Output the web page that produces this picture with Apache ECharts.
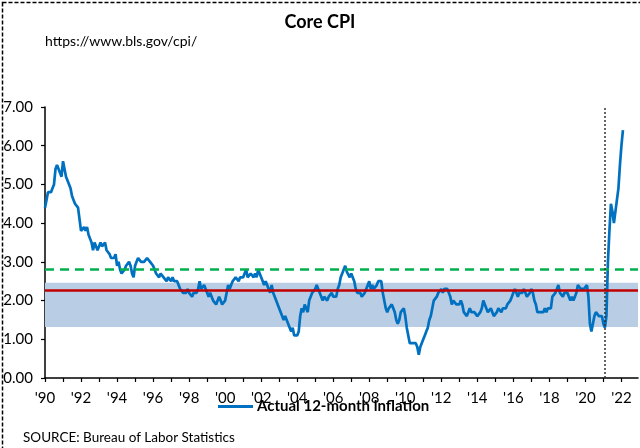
<!DOCTYPE html>
<html>
<head>
<meta charset="utf-8">
<script src="https://cdn.jsdelivr.net/npm/echarts@6/dist/echarts.min.js"></script>
<style>
html,body{margin:0;padding:0;background:#fff;}
#chart{width:640px;height:448px;}
</style>
</head>
<body>
<div id="chart"></div>
<script>
// Monthly core CPI, 12-month % change, Jan 1990 - Feb 2022
var startYear = 1990;
var coreCPI = [
  4.4, 4.6, 4.8, 4.8, 4.8, 4.9, 5.0, 5.4, 5.5, 5.5, 5.3, 5.2, // 1990
  5.6, 5.6, 5.2, 5.1, 5.1, 4.9, 4.7, 4.6, 4.5, 4.5, 4.4, 4.4, // 1991
  3.8, 3.8, 3.9, 3.8, 3.9, 3.7, 3.6, 3.5, 3.3, 3.5, 3.5, 3.3, // 1992
  3.4, 3.5, 3.4, 3.4, 3.5, 3.3, 3.3, 3.2, 3.1, 3.1, 3.1, 3.2, // 1993
  2.9, 3.0, 2.8, 2.7, 2.7, 2.8, 2.9, 2.9, 3.0, 2.9, 2.7, 2.6, // 1994
  2.9, 3.0, 3.1, 3.1, 3.0, 3.0, 3.0, 3.0, 3.1, 3.1, 3.0, 3.0, // 1995
  2.9, 2.8, 2.7, 2.7, 2.6, 2.7, 2.7, 2.6, 2.6, 2.5, 2.6, 2.6, // 1996
  2.5, 2.6, 2.5, 2.5, 2.5, 2.4, 2.3, 2.3, 2.2, 2.2, 2.2, 2.3, // 1997
  2.2, 2.2, 2.1, 2.2, 2.2, 2.2, 2.3, 2.5, 2.3, 2.3, 2.4, 2.3, // 1998
  2.2, 2.1, 2.2, 2.1, 2.0, 2.0, 1.9, 2.0, 2.1, 2.0, 1.9, 1.9, // 1999
  2.0, 2.2, 2.4, 2.3, 2.4, 2.5, 2.5, 2.6, 2.6, 2.5, 2.6, 2.6, // 2000
  2.6, 2.7, 2.8, 2.6, 2.6, 2.7, 2.7, 2.6, 2.7, 2.6, 2.8, 2.7, // 2001
  2.6, 2.6, 2.4, 2.5, 2.5, 2.3, 2.2, 2.4, 2.2, 2.2, 2.0, 1.9, // 2002
  1.9, 1.7, 1.7, 1.5, 1.6, 1.5, 1.5, 1.3, 1.2, 1.3, 1.1, 1.1, // 2003
  1.1, 1.2, 1.6, 1.8, 1.7, 1.9, 1.8, 1.7, 2.0, 2.0, 2.2, 2.2, // 2004
  2.3, 2.4, 2.3, 2.2, 2.2, 2.0, 2.1, 2.1, 2.0, 2.1, 2.1, 2.2, // 2005
  2.1, 2.1, 2.1, 2.3, 2.4, 2.6, 2.7, 2.8, 2.9, 2.75, 2.7, 2.6, // 2006
  2.7, 2.7, 2.5, 2.3, 2.2, 2.2, 2.2, 2.1, 2.1, 2.2, 2.3, 2.4, // 2007
  2.5, 2.3, 2.4, 2.3, 2.3, 2.4, 2.5, 2.5, 2.5, 2.2, 2.0, 1.8, // 2008
  1.7, 1.8, 1.8, 1.9, 1.8, 1.7, 1.5, 1.4, 1.5, 1.7, 1.7, 1.8, // 2009
  1.6, 1.3, 1.1, 0.9, 0.9, 0.9, 0.9, 0.9, 0.8, 0.6, 0.8, 0.8, // 2010
  1.0, 1.1, 1.2, 1.3, 1.5, 1.6, 1.8, 2.0, 2.0, 2.1, 2.2, 2.2, // 2011
  2.3, 2.2, 2.3, 2.3, 2.3, 2.2, 2.1, 1.9, 2.0, 2.0, 1.9, 1.9, // 2012
  1.9, 2.0, 1.9, 1.7, 1.7, 1.6, 1.7, 1.8, 1.7, 1.7, 1.7, 1.7, // 2013
  1.6, 1.6, 1.7, 1.8, 2.0, 1.9, 1.9, 1.7, 1.7, 1.8, 1.7, 1.6, // 2014
  1.6, 1.7, 1.8, 1.8, 1.7, 1.8, 1.8, 1.8, 1.9, 1.9, 2.0, 2.1, // 2015
  2.2, 2.3, 2.2, 2.1, 2.2, 2.2, 2.2, 2.3, 2.2, 2.1, 2.1, 2.2, // 2016
  2.3, 2.2, 2.0, 1.9, 1.7, 1.7, 1.7, 1.7, 1.7, 1.8, 1.7, 1.8, // 2017
  1.8, 1.8, 2.1, 2.1, 2.2, 2.3, 2.4, 2.2, 2.2, 2.1, 2.2, 2.2, // 2018
  2.2, 2.1, 2.0, 2.1, 2.0, 2.1, 2.2, 2.4, 2.4, 2.3, 2.3, 2.3, // 2019
  2.3, 2.4, 2.1, 1.4, 1.2, 1.2, 1.6, 1.7, 1.7, 1.6, 1.6, 1.6, // 2020
  1.4, 1.3, 1.6, 3.0, 3.8, 4.5, 4.3, 4.0, 4.0, 4.6, 4.9, 5.5, // 2021
  6.0, 6.4                                                    // 2022
];
var seriesName = 'Actual 12-month inflation';
var bandRange = [1.32, 2.46];
var redLevel = 2.26;
var greenLevel = 2.82;
var markerYear = 2021.08;
var yTicks = [0, 1, 2, 3, 4, 5, 6, 7];
var xMin = 1990, xMax = 2022.92;

var points = coreCPI.map(function (v, i) { return [startYear + i / 12, v]; });

var FONT = 'Lato, "Open Sans", sans-serif';
var chart = echarts.init(document.getElementById('chart'), null, {renderer: 'canvas'});
chart.setOption({
  animation: false,
  backgroundColor: '#fff',
  grid: {left: 45, right: 2, top: 107, bottom: 70, containLabel: false},
  xAxis: {
    type: 'value', min: xMin, max: xMax, interval: 1,
    splitLine: {show: false},
    axisLine: {show: true, lineStyle: {color: '#000', width: 1.5}},
    axisTick: {show: true, length: 4, lineStyle: {color: '#000', width: 1.2}},
    axisLabel: {
      margin: 13, color: '#000', fontSize: 15, fontFamily: FONT,
      showMaxLabel: false,
      formatter: function (v) {
        if (Math.abs(v - Math.round(v)) > 1e-6) return '';
        var y = Math.round(v);
        if (y % 2 !== 0) return '';
        return "'" + String(y).slice(2);
      }
    }
  },
  yAxis: {
    type: 'value', min: yTicks[0], max: yTicks[yTicks.length - 1], interval: 1,
    splitLine: {show: false},
    axisLine: {show: true, lineStyle: {color: '#000', width: 1.5}},
    axisTick: {show: true, length: 4, lineStyle: {color: '#000', width: 1.2}},
    axisLabel: {margin: 12, color: '#000', fontSize: 15, fontFamily: FONT,
      formatter: function (v) { return v.toFixed(2); }}
  },
  legend: {
    data: [seriesName],
    left: 218, top: 399, padding: 0,
    icon: 'rect', itemWidth: 35, itemHeight: 3, itemGap: 10,
    textStyle: {color: '#000', fontSize: 15, fontWeight: 'bold', fontFamily: FONT, padding: [0, 0, 0, -1]}
  },
  series: [
    {
      type: 'line', name: 'band', data: [], z: 1, silent: true,
      markArea: {silent: true, itemStyle: {color: '#b9cde5', opacity: 1},
        data: [[{yAxis: bandRange[0]}, {yAxis: bandRange[1]}]]}
    },
    {
      type: 'line', name: seriesName, data: points, z: 3,
      symbol: 'none', smooth: false,
      itemStyle: {color: '#0070c0'},
      lineStyle: {color: '#0070c0', width: 2.7}
    },
    {
      type: 'line', name: 'refs', data: [], z: 4, silent: true,
      markLine: {
        silent: true, symbol: 'none', label: {show: false},
        data: [
          {yAxis: greenLevel, lineStyle: {color: '#00b050', width: 2.5, type: [9, 6]}},
          {yAxis: redLevel, lineStyle: {color: '#c00000', width: 2.5, type: 'solid'}},
          {xAxis: markerYear, lineStyle: {color: '#333', width: 1.5, type: [2, 2]}}
        ]
      }
    }
  ],
  graphic: [
    {type: 'text', left: 'center', top: 13, style: {text: 'Core CPI', fill: '#000', font: 'bold 18px ' + FONT}},
    {type: 'text', left: 45, top: 34, style: {text: 'https://www.bls.gov/cpi/', fill: '#000', font: '14px ' + FONT}},
    {type: 'text', left: 23, top: 431, style: {text: 'SOURCE: Bureau of Labor Statistics', fill: '#000', font: '13.5px ' + FONT}},
    {type: 'rect', left: 0, top: 0, z: 100, silent: true,
      shape: {x: 0.75, y: 0.75, width: 638.5, height: 446.5},
      style: {fill: 'none', stroke: '#000', lineWidth: 1.5, lineDash: [4, 2]}}
  ]
});
</script>
</body>
</html>
